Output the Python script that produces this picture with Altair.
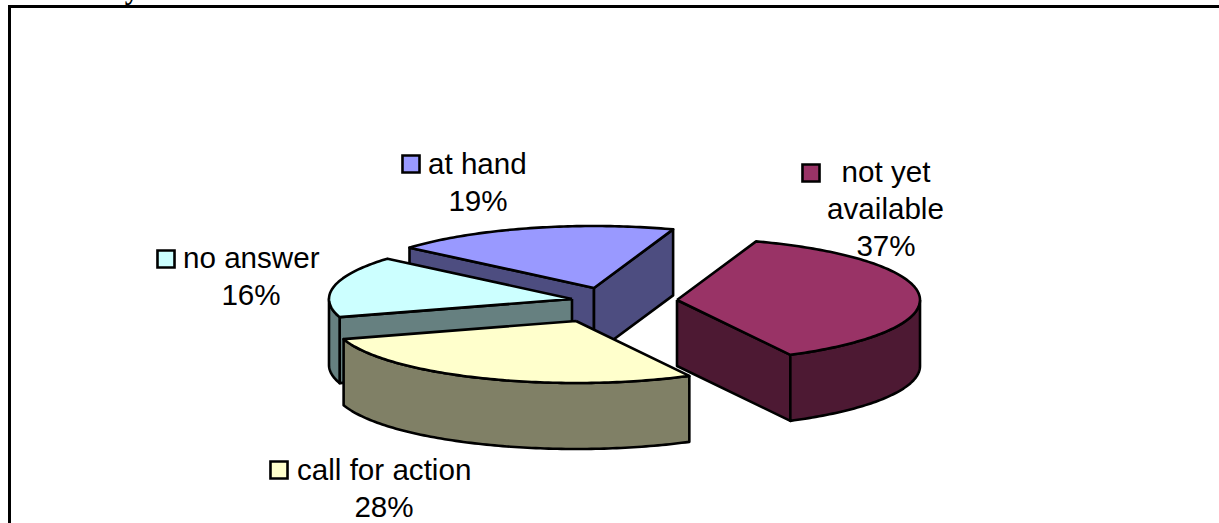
import math

import altair as alt
import pandas as pd

# Shares of the exploded 3D pie, clockwise from the first slice
categories = ["not yet available", "call for action", "no answer", "at hand"]
shares = [37, 28, 16, 19]
top_colors = ["#993366", "#FFFFCC", "#CCFFFF", "#9999FF"]
side_colors = ["#4D1933", "#808066", "#668080", "#4D4D80"]

WIDTH, HEIGHT = 1219, 523
RX, RY, DEPTH = 243, 62, 66
START_ANGLE = 71
LINE = 2.6
CENTERS = {
    "not yet available": (677, 300),
    "call for action": (576, 321),
    "no answer": (572, 299),
    "at hand": (594, 288),
}

x_enc = alt.X("x:Q", axis=None, scale=alt.Scale(domain=[0, WIDTH], range=[0, WIDTH]))
y_enc = alt.Y("y:Q", axis=None, scale=alt.Scale(domain=[0, HEIGHT], range=[0, HEIGHT]))


def rim(center, t0, t1, drop=0):
    """Points along the projected pie rim between two angles in degrees."""
    steps = max(2, int(abs(t1 - t0)))
    pts = []
    for i in range(steps + 1):
        t = math.radians(t0 + (t1 - t0) * i / steps)
        pts.append((center[0] + RX * math.cos(t), center[1] - RY * math.sin(t) + drop))
    return pts


def face(points, color):
    closed = points + [points[0]]
    frame = pd.DataFrame(closed, columns=["x", "y"]).assign(i=range(len(closed)))
    return (
        alt.Chart(frame)
        .mark_line(fill=color, stroke="black", strokeWidth=LINE, strokeJoin="round", clip=False)
        .encode(x=x_enc, y=y_enc, order="i:Q")
    )


# Angular extent of each slice, running clockwise
extent = {}
angle = START_ANGLE
for name, share in zip(categories, shares):
    extent[name] = (angle, angle - share * 3.6)
    angle -= share * 3.6


def radial_wall(name, t, color):
    c = CENTERS[name]
    edge = rim(c, t, t)[0]
    return face([c, edge, (edge[0], edge[1] + DEPTH), (c[0], c[1] + DEPTH)], color)


def rim_wall(name, t0, t1, color):
    c = CENTERS[name]
    return face(rim(c, t0, t1) + rim(c, t1, t0, DEPTH), color)


def top(name, color):
    c = CENTERS[name]
    t0, t1 = extent[name]
    return face([c] + rim(c, t0, t1), color)


top_of = dict(zip(categories, top_colors))
side_of = dict(zip(categories, side_colors))

# Painter's order: rear slices first, each with its visible walls before its top
faces = [
    radial_wall("at hand", extent["at hand"][0], side_of["at hand"]),
    radial_wall("at hand", extent["at hand"][1], side_of["at hand"]),
    top("at hand", top_of["at hand"]),
    radial_wall("no answer", extent["no answer"][0], side_of["no answer"]),
    rim_wall("no answer", extent["no answer"][0], -180, side_of["no answer"]),
    top("no answer", top_of["no answer"]),
    rim_wall("call for action", extent["call for action"][0], extent["call for action"][1], side_of["call for action"]),
    top("call for action", top_of["call for action"]),
    radial_wall("not yet available", extent["not yet available"][1], side_of["not yet available"]),
    rim_wall("not yet available", 0, extent["not yet available"][1], side_of["not yet available"]),
    top("not yet available", top_of["not yet available"]),
]

# Data labels with their legend keys
label_rows = [
    {"x": 428, "y": 174, "text": "at hand", "align": "left"},
    {"x": 478, "y": 211, "text": f"{shares[3]}%", "align": "center"},
    {"x": 183, "y": 268, "text": "no answer", "align": "left"},
    {"x": 251, "y": 305, "text": f"{shares[2]}%", "align": "center"},
    {"x": 886, "y": 182, "text": "not yet", "align": "center"},
    {"x": 885.5, "y": 219, "text": "available", "align": "center"},
    {"x": 886, "y": 256, "text": f"{shares[0]}%", "align": "center"},
    {"x": 297, "y": 480, "text": "call for action", "align": "left"},
    {"x": 384, "y": 517, "text": f"{shares[1]}%", "align": "center"},
]


def label_layer(align):
    rows = pd.DataFrame([r for r in label_rows if r["align"] == align])
    return (
        alt.Chart(rows)
        .mark_text(font="Liberation Sans", fontSize=29.6, color="#000000", align=align, baseline="alphabetic")
        .encode(x=x_enc, y=y_enc, text="text:N")
    )


key_frame = pd.DataFrame(
    {
        "x": [411, 166, 811, 279],
        "y": [164, 259, 173, 470],
        "key": ["at hand", "no answer", "not yet available", "call for action"],
    }
)
keys = (
    alt.Chart(key_frame)
    .mark_point(shape="square", filled=True, size=290, stroke="black", strokeWidth=LINE, opacity=1)
    .encode(
        x=x_enc,
        y=y_enc,
        fill=alt.Fill("key:N", legend=None, scale=alt.Scale(domain=categories, range=top_colors)),
    )
)

# Frame around the figure: top and left edges, both running off the page
frame_lines = alt.Chart(
    pd.DataFrame(
        [
            {"x": 8, "x2": WIDTH, "y": 6.5, "y2": 6.5},
            {"x": 9.5, "x2": 9.5, "y": 6.5, "y2": HEIGHT},
        ]
    )
).mark_rule(color="black", strokeWidth=3).encode(x=x_enc, x2="x2:Q", y=y_enc, y2="y2:Q")

# Tail of the heading letter that sits above the frame
heading = (
    alt.Chart(pd.DataFrame({"x": [132], "y": [-1], "text": ["y"]}))
    .mark_text(font="Liberation Serif", fontSize=29, fontWeight="bold", color="#000000", align="center", baseline="alphabetic", clip=False)
    .encode(x=x_enc, y=y_enc, text="text:N")
)

chart = (
    alt.layer(frame_lines, heading, *faces, keys, label_layer("left"), label_layer("center"))
    .properties(width=WIDTH, height=HEIGHT, padding=0, autosize=alt.AutoSizeParams(type="none"), background="white")
    .configure_view(stroke=None)
)

chart.save("out.html", embed_options={"renderer": "svg", "actions": False})
